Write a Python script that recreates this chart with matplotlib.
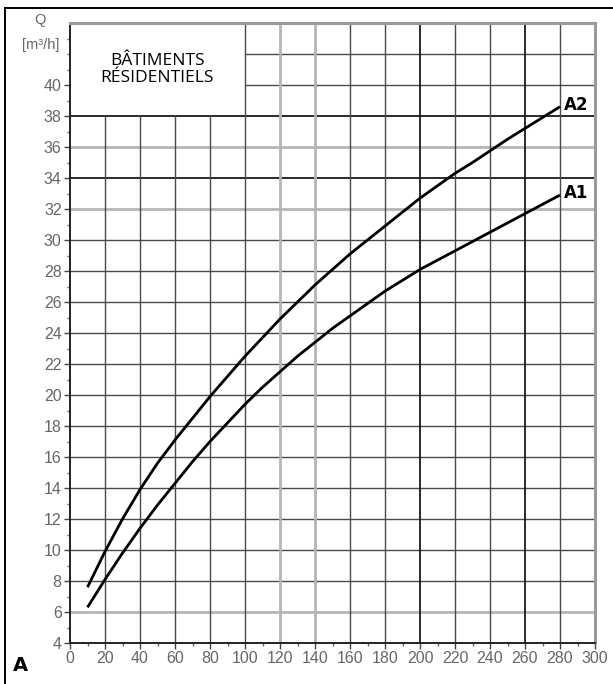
import matplotlib
matplotlib.use("Agg")
import matplotlib.pyplot as plt
from matplotlib.lines import Line2D

# flow Q [m3/h], every 10 units
x_a2 = [10, 20, 30, 40, 50, 60, 70, 80, 90, 100, 110, 120, 130, 140, 150,
        160, 170, 180, 190, 200, 210, 220, 230, 240, 250, 260, 270, 280]
q_a2 = [7.6, 9.9, 12.0, 13.9, 15.6, 17.1, 18.5, 19.9, 21.2, 22.5, 23.7, 24.9, 26.0, 27.1, 28.1,
        29.1, 30.0, 30.9, 31.8, 32.7, 33.5, 34.3, 35.0, 35.75, 36.5, 37.2, 37.9, 38.6]

x_a1 = [10, 20, 30, 40, 50, 60, 70, 80, 90, 100, 110, 120, 130, 140, 150,
        160, 170, 180, 190, 200, 210, 220, 230, 240, 250, 260, 270, 280]
q_a1 = [6.3, 8.1, 9.8, 11.4, 12.9, 14.3, 15.7, 17.0, 18.2, 19.4, 20.5, 21.5, 22.5, 23.4, 24.3,
        25.1, 25.9, 26.7, 27.4, 28.1, 28.7, 29.3, 29.9, 30.5, 31.1, 31.7, 32.3, 32.9]

x_ticks = list(range(0, 301, 20))
y_ticks = list(range(4, 41, 2))
box_lines = ["BÂTIMENTS", "RÉSIDENTIELS"]

tick_font = ["Liberation Sans Narrow", "Liberation Sans"]

fig = plt.figure(figsize=(6.13, 6.84), dpi=100)
ax = fig.add_axes([70 / 613, 1 - 643 / 684, 525 / 613, 620 / 684])
ax.set_xlim(0, 300)
ax.set_ylim(4, 44)

# grid, drawn by hand so the label box stays empty
dark = {34, 38, 200, 260}
light = {6, 32, 36, 120, 140}
for y in range(6, 44, 2):
    c, lw = ("#1a1a1a", 1.3) if y in dark else (("#b5b5b5", 2.0) if y in light else ("#4a4a4a", 1.0))
    xmin = 100 / 300 if y > 38 else 0
    ax.axhline(y, xmin=xmin, xmax=1, color=c, lw=lw, zorder=1)
for x in range(20, 300, 20):
    c, lw = ("#1a1a1a", 1.3) if x in dark else (("#b5b5b5", 2.0) if x in light else ("#4a4a4a", 1.0))
    ymax = (38 - 4) / 40 if x < 100 else 1
    ax.axvline(x, ymin=0, ymax=ymax, color=c, lw=lw, zorder=1)

ax.text(50, 41.0, "\n".join(box_lines), ha="center", va="center",
        fontsize=12.5, family=["Open Sans", "DejaVu Sans"], linespacing=1.15)

ax.plot(x_a2, q_a2, color="black", lw=2.0, zorder=4, solid_capstyle="butt")
ax.plot(x_a1, q_a1, color="black", lw=2.0, zorder=4, solid_capstyle="butt")
ax.text(x_a2[-1] + 2, q_a2[-1] + 0.1, "A2", fontsize=12, fontweight="bold",
        va="center", ha="left", zorder=5)
ax.text(x_a1[-1] + 2, q_a1[-1] + 0.1, "A1", fontsize=12, fontweight="bold",
        va="center", ha="left", zorder=5)

for s in ["left", "bottom"]:
    ax.spines[s].set_color("#222222")
    ax.spines[s].set_linewidth(1.4)
for s in ["top", "right"]:
    ax.spines[s].set_color("#9a9a9a")
    ax.spines[s].set_linewidth(2.2)

ax.set_xticks(x_ticks)
ax.set_yticks(y_ticks)
ax.set_xticks(range(10, 300, 20), minor=True)
ax.set_yticks(range(5, 44, 1), minor=True)
ax.tick_params(which="major", length=4, width=1, color="#444444",
               labelcolor="#666666", labelsize=11.5, pad=2)
ax.tick_params(which="minor", length=2.5, width=1, color="#666666")
for lab in ax.get_xticklabels() + ax.get_yticklabels():
    lab.set_family(tick_font)

ax.text(-17, 44.2, "Q", ha="center", va="center", fontsize=10.5,
        color="#666666", family=tick_font, clip_on=False)
ax.text(-17, 42.6, "[m³/h]", ha="center", va="center", fontsize=10.5,
        color="#666666", family=tick_font, clip_on=False)

fig.text(0.033, 0.027, "A", fontsize=14, fontweight="bold", ha="center", va="center")

# outer frame, only top and left sides
fig.add_artist(Line2D([5 / 613, 1], [1 - 8 / 684, 1 - 8 / 684], color="black", lw=1.4))
fig.add_artist(Line2D([5 / 613, 5 / 613], [0, 1 - 8 / 684], color="black", lw=1.4))

fig.savefig("out.png", dpi=100, facecolor="white")
